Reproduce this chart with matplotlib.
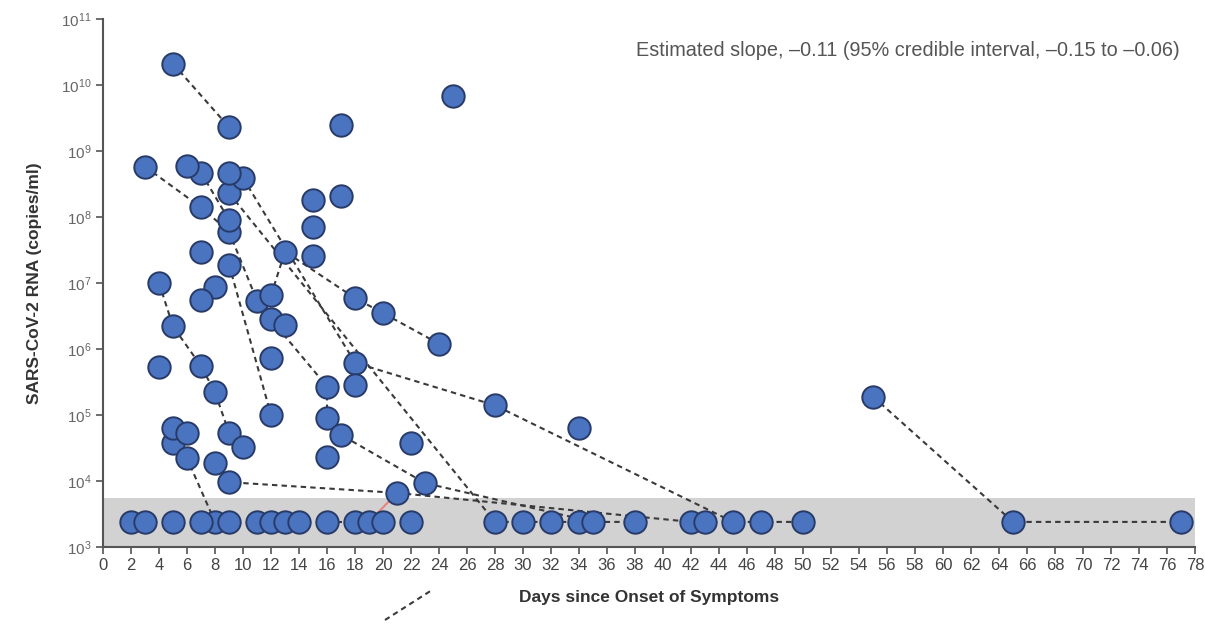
import numpy as np
import matplotlib
matplotlib.use("Agg")
import matplotlib.pyplot as plt
from matplotlib.lines import Line2D

plt.rcParams['font.family'] = ['Liberation Sans', 'DejaVu Sans']
plt.rcParams['mathtext.fontset'] = 'custom'
plt.rcParams['mathtext.rm'] = 'Liberation Sans'

# limit of detection level (points drawn inside the gray band)
LOD = 2.4e3
band_top = 5.5e3

# connected series (one list per patient): days since onset, RNA copies/ml
traj_days = [
    [5, 9],
    [3, 7, 9, 11],
    [12, 13, 18, 20, 24],
    [9, 28, 30, 32, 34],
    [10, 18, 28, 45, 47, 50],
    [7, 9],
    [9, 12],
    [4, 5, 7, 8, 9, 10],
    [5, 6, 8],
    [8, 9, 21, 42, 43],
    [12, 16, 16, 17, 23, 35, 38],
    [55, 65, 77],
    [16, 18],
]
traj_rna = [
    [2.1e10, 2.3e9],
    [5.8e8, 1.4e8, 6e7, 5.4e6],
    [6.5e6, 3e7, 5.9e6, 3.5e6, 1.2e6],
    [2.3e8, LOD, LOD, LOD, LOD],
    [3.9e8, 6.2e5, 1.4e5, LOD, LOD, LOD],
    [4.7e8, 9e7],
    [1.9e7, 1e5],
    [1e7, 2.2e6, 5.5e5, 2.2e5, 5.4e4, 3.3e4],
    [3.8e4, 2.2e4, LOD],
    [1.9e4, 9.6e3, 6.6e3, LOD, LOD],
    [2.8e6, 2.7e5, 9e4, 5e4, 9.3e3, LOD, LOD],
    [1.9e5, LOD, LOD],
    [LOD, LOD],
]

# unconnected measurements
single_days = [6, 9, 7, 15, 15, 15, 17, 17, 25, 8, 7, 13, 4, 12, 5, 6, 18, 16, 22, 34,
               2, 3, 5, 7, 9, 11, 12, 13, 14, 19, 20, 22]
single_rna = [6e8, 4.6e8, 3e7, 1.8e8, 7e7, 2.6e7, 2.1e8, 2.5e9, 6.8e9, 8.7e6, 5.5e6, 2.3e6,
              5.4e5, 7.2e5, 6.3e4, 5.3e4, 2.8e5, 2.3e4, 3.8e4, 6.3e4,
              LOD, LOD, LOD, LOD, LOD, LOD, LOD, LOD, LOD, LOD, LOD, LOD]

# short red link
red_days = [19, 21]
red_rna = [LOD, 6.6e3]

xticks = list(range(0, 80, 2))
yticks = [10.0 ** k for k in range(3, 12)]

fig = plt.figure(figsize=(12.05, 6.25), dpi=100)
ax = fig.add_axes([0.0855, 0.1248, 0.9062, 0.8448])

ax.axhspan(1e3, band_top, color='#d2d2d2', lw=0, zorder=0)

dash = (0, (2.6, 2.0))
for d, r in zip(traj_days, traj_rna):
    ax.plot(d, r, color='#3a3a3a', lw=1.5, ls=dash, zorder=2)
ax.plot(red_days, red_rna, color='#e8847c', lw=1.5, zorder=2)

all_d = np.concatenate([np.concatenate(traj_days), single_days])
all_r = np.concatenate([np.concatenate(traj_rna), single_rna])
ax.scatter(all_d, all_r, s=260, facecolor='#4a74c0', edgecolor='#283a68',
           linewidth=1.4, zorder=3, clip_on=False)

ax.set_yscale('log')
ax.set_xlim(0, 78)
ax.set_ylim(1e3, 1e11)
ax.set_xticks(xticks)
ax.set_xticklabels([str(t) for t in xticks])
ax.set_yticks(yticks)
ax.set_yticklabels([r'$\mathregular{10^{%d}}$' % k for k in range(3, 12)])
ax.yaxis.set_minor_locator(matplotlib.ticker.NullLocator())

for s in ['top', 'right']:
    ax.spines[s].set_visible(False)
for s in ['left', 'bottom']:
    ax.spines[s].set_color('#555555')
    ax.spines[s].set_linewidth(1.5)
ax.tick_params(axis='both', colors='#555555', length=5, width=1.2,
               labelsize=12, labelcolor='#444444', pad=3)
ax.tick_params(axis='y', labelcolor='#666666', labelsize=11)

ax.set_xlabel('Days since Onset of Symptoms', fontsize=12.5, fontweight='bold',
              color='#333333', labelpad=12)
ax.set_ylabel('SARS-CoV-2 RNA (copies/ml)', fontsize=12.5, fontweight='bold',
              color='#333333', labelpad=14)

fig.text(1180 / 1205, 1 - 50 / 625,
         'Estimated slope, \u20130.11 (95% credible interval, \u20130.15 to \u20130.06)',
         ha='right', va='center', fontsize=14.3, color='#555555')

# stray dashed stroke below the axis
fig.add_artist(Line2D([385 / 1205, 432 / 1205], [1 - 620 / 625, 1 - 590 / 625],
                      transform=fig.transFigure, color='#3a3a3a', lw=1.5, ls=dash))

fig.savefig('out.png', dpi=100)
